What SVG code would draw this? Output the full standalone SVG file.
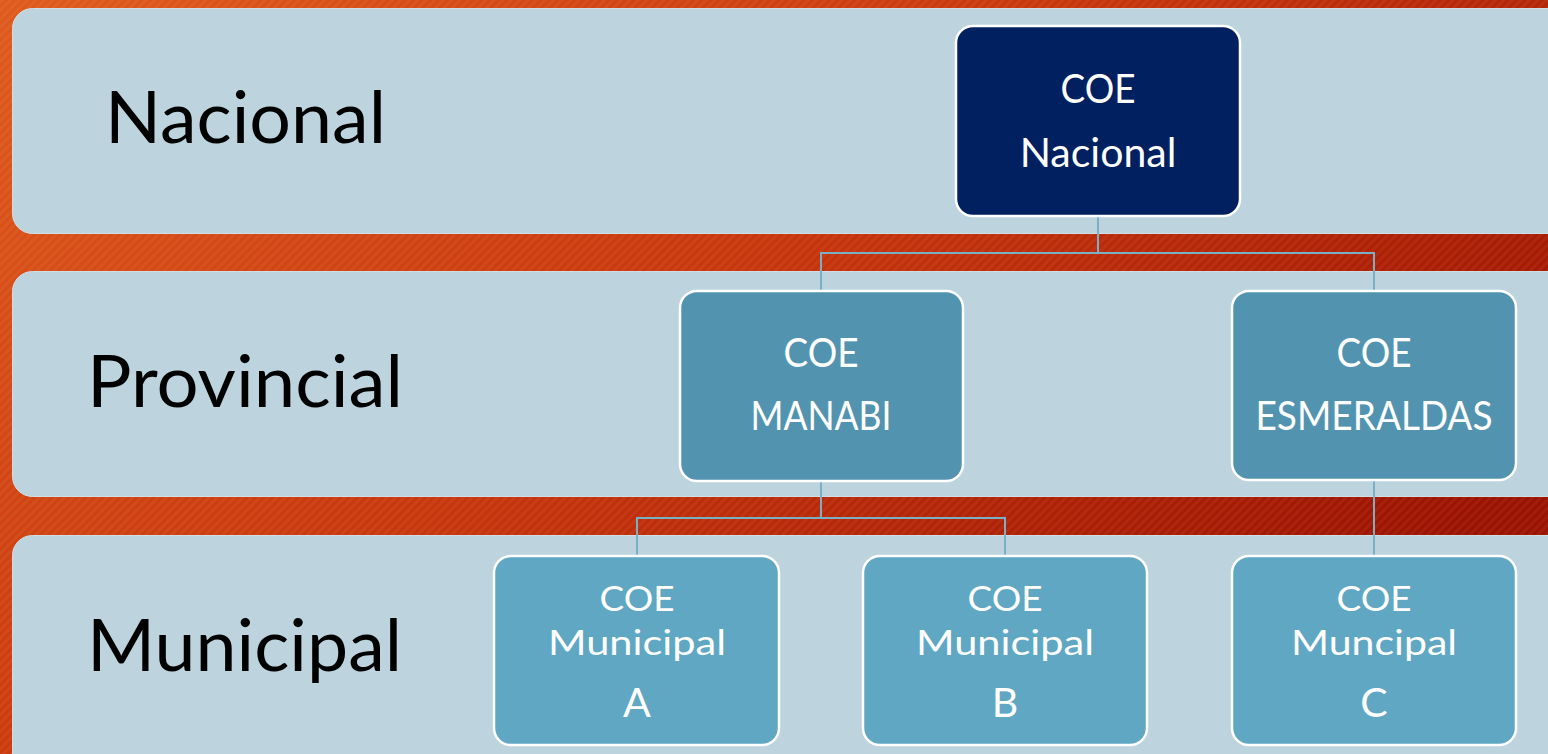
<svg xmlns="http://www.w3.org/2000/svg" width="1548" height="754" viewBox="0 0 1548 754">
<defs>
<linearGradient id="bg" x1="0" y1="0" x2="1" y2="0.6">
<stop offset="0" stop-color="#df5a1c"/>
<stop offset="0.5" stop-color="#c8360c"/>
<stop offset="1" stop-color="#9c1200"/>
</linearGradient>
<pattern id="stripes" width="6" height="6" patternUnits="userSpaceOnUse" patternTransform="rotate(-45)">
<rect width="6" height="3" fill="#ffffff" opacity="0.05"/>
</pattern>
<style>
.band{fill:#bdd4de;stroke:#d0dfe6;stroke-width:1}
.lvl{font-family:Lato,"Open Sans",sans-serif;font-size:72px;fill:#000}
.node rect{stroke:#ffffff;stroke-width:2.5}
.nac{fill:#002060}
.prov{fill:#5294b0}
.mun{fill:#5fa7c2}
.t{font-family:Lato,"Open Sans",sans-serif;font-size:41px;fill:#ffffff;text-anchor:middle}
.s{font-size:35px}
.conn{stroke:#79b0c6;stroke-width:2;fill:none}
</style>
</defs>
<rect width="1548" height="754" fill="url(#bg)"/>
<rect width="1548" height="754" fill="url(#stripes)"/>
<g id="bands">
<rect class="band" x="12.5" y="8.5" width="1560" height="225" rx="20"/>
<rect class="band" x="12.5" y="271.5" width="1560" height="225" rx="20"/>
<rect class="band" x="12.5" y="535.5" width="1560" height="240" rx="20"/>
</g>
<g id="levels">
<text class="lvl" x="105" y="143" textLength="281" lengthAdjust="spacingAndGlyphs">Nacional</text>
<text class="lvl" x="87" y="407" textLength="316" lengthAdjust="spacingAndGlyphs">Provincial</text>
<text class="lvl" x="87" y="671" textLength="315" lengthAdjust="spacingAndGlyphs">Municipal</text>
</g>
<g id="connectors">
<polyline class="conn" points="1098,216 1098,253"/>
<polyline class="conn" points="821,291 821,253 1374,253 1374,291"/>
<polyline class="conn" points="821,481 821,518"/>
<polyline class="conn" points="637,556 637,518 1005,518 1005,556"/>
<polyline class="conn" points="1374,480 1374,556"/>
</g>
<g id="coe-nacional" class="node">
<rect class="nac" x="956" y="26" width="284" height="190" rx="17"/>
<text class="t" x="1098" y="103" textLength="75" lengthAdjust="spacingAndGlyphs">COE</text>
<text class="t" x="1098" y="167">Nacional</text>
</g>
<g id="coe-manabi" class="node">
<rect class="prov" x="680" y="291" width="283" height="190" rx="17"/>
<text class="t" x="821" y="367" textLength="75" lengthAdjust="spacingAndGlyphs">COE</text>
<text class="t" x="821" y="430" textLength="141" lengthAdjust="spacingAndGlyphs">MANABI</text>
</g>
<g id="coe-esmeraldas" class="node">
<rect class="prov" x="1232" y="291" width="284" height="189" rx="17"/>
<text class="t" x="1374" y="367" textLength="75" lengthAdjust="spacingAndGlyphs">COE</text>
<text class="t" x="1374" y="430" textLength="237" lengthAdjust="spacingAndGlyphs">ESMERALDAS</text>
</g>
<g id="coe-municipal-a" class="node">
<rect class="mun" x="494" y="556" width="285" height="189" rx="17"/>
<text class="t s" x="637" y="611" textLength="75" lengthAdjust="spacingAndGlyphs">COE</text>
<text class="t s" x="637" y="655" textLength="178" lengthAdjust="spacingAndGlyphs">Municipal</text>
<text class="t" x="637" y="717">A</text>
</g>
<g id="coe-municipal-b" class="node">
<rect class="mun" x="863" y="556" width="284" height="189" rx="17"/>
<text class="t s" x="1005" y="611" textLength="75" lengthAdjust="spacingAndGlyphs">COE</text>
<text class="t s" x="1005" y="655" textLength="178" lengthAdjust="spacingAndGlyphs">Municipal</text>
<text class="t" x="1005" y="717">B</text>
</g>
<g id="coe-muncipal-c" class="node">
<rect class="mun" x="1232" y="556" width="284" height="189" rx="17"/>
<text class="t s" x="1374" y="611" textLength="75" lengthAdjust="spacingAndGlyphs">COE</text>
<text class="t s" x="1374" y="655" textLength="166" lengthAdjust="spacingAndGlyphs">Muncipal</text>
<text class="t" x="1374" y="717">C</text>
</g>
</svg>
